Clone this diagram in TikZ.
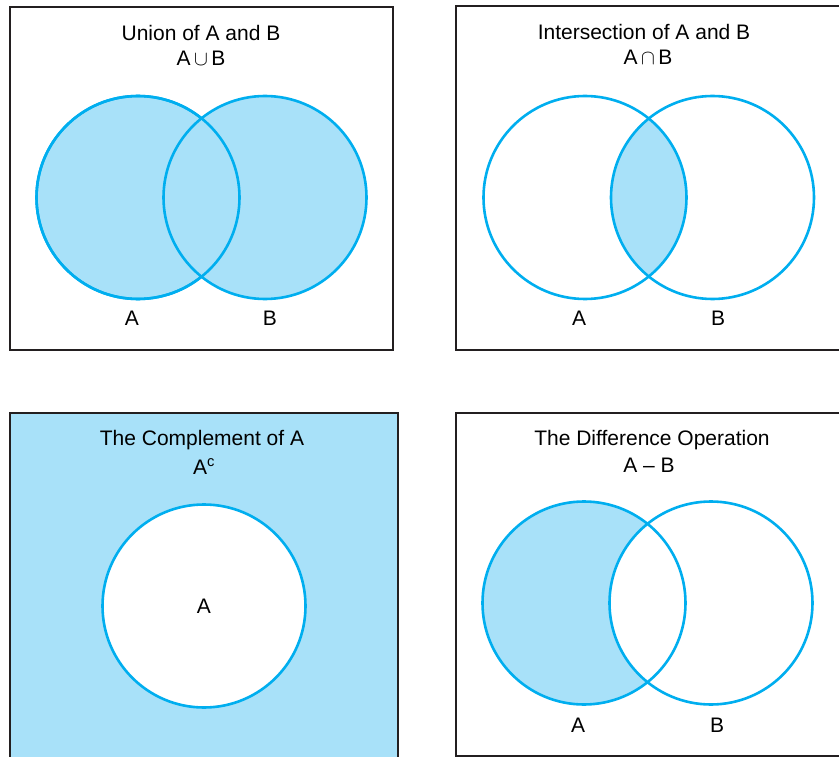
\documentclass[tikz,border=0pt]{standalone}
\usepackage{fontspec}
\setmainfont{Liberation Sans}
\usetikzlibrary{positioning,backgrounds}
\definecolor{setfill}{HTML}{A8E1F9}
\definecolor{setline}{HTML}{00AEEF}
\definecolor{frame}{HTML}{231F20}

\begin{document}
\begin{tikzpicture}[x=1pt,y=-1pt,every node/.style={font=\fontsize{21}{25}\selectfont}]
    \tikzstyle{panel}=[draw=frame,line width=1.3pt];
    \tikzstyle{setc}=[circle,draw=setline,line width=2.6pt,minimum size=203pt,inner sep=0pt];
    \tikzstyle{lbl}=[anchor=base,inner sep=0pt];
    \useasboundingbox (0,0) rectangle (839,757);
    \clip (0,0) rectangle (839,757);

    % union
    \node[panel,minimum width=383pt,minimum height=343pt] (p1) at (201.5,178.5) {};
    \node[setc,fill=setfill] (uA) at (138,197.5) {};
    \node[setc,fill=setfill] (uB) at (265,197.5) {};
    \node[setc] at (uA) {};
    \node[lbl] (t1) at (201,41) {Union of A and B};
    \node[lbl] (s1) at (201,66) {A\,$\cup$\,B};
    \node[lbl] (la1) at (132,325) {A};
    \node[lbl] (lb1) at (270,325) {B};

    % intersection
    \node[panel,minimum width=400pt,minimum height=344pt] (p2) at (656,178) {};
    \node[setc] (iA) at (585,197.5) {};
    \node[setc] (iB) at (712.5,197.5) {};
    \begin{scope}[on background layer]
      \begin{scope}
        \clip (iA.center) circle[radius=101.5];
        \fill[setfill] (iB.center) circle[radius=101.5];
      \end{scope}
    \end{scope}
    \node[lbl] (t2) at (644,40) {Intersection of A and B};
    \node[lbl] (s2) at (648,65) {A\,$\cap$\,B};
    \node[lbl] (la2) at (579,325) {A};
    \node[lbl] (lb2) at (718,325) {B};

    % complement
    \node[panel,fill=setfill,minimum width=388pt,minimum height=360pt] (p3) at (204,593) {};
    \node[setc,fill=white] (cA) at (204,606) {};
    \node[lbl] (t3) at (202,445) {The Complement of A};
    \node[lbl] (s3) at (204,474) {A\textsuperscript{c}};
    \node[lbl] (la3) at (204,613) {A};

    % difference
    \node[panel,minimum width=400pt,minimum height=343pt] (p4) at (656,584.5) {};
    \node[setc] (dA) at (584,603) {};
    \node[setc] (dB) at (711,603) {};
    \begin{scope}[on background layer]
      \begin{scope}
        \fill[setfill] (dA.center) circle[radius=101.5];
        \fill[white] (dB.center) circle[radius=101.5];
      \end{scope}
    \end{scope}
    \node[lbl] (t4) at (652,445) {The Difference Operation};
    \node[lbl] (s4) at (649,472) {A -- B};
    \node[lbl] (la4) at (578,732) {A};
    \node[lbl] (lb4) at (717,732) {B};
\end{tikzpicture}
\end{document}
